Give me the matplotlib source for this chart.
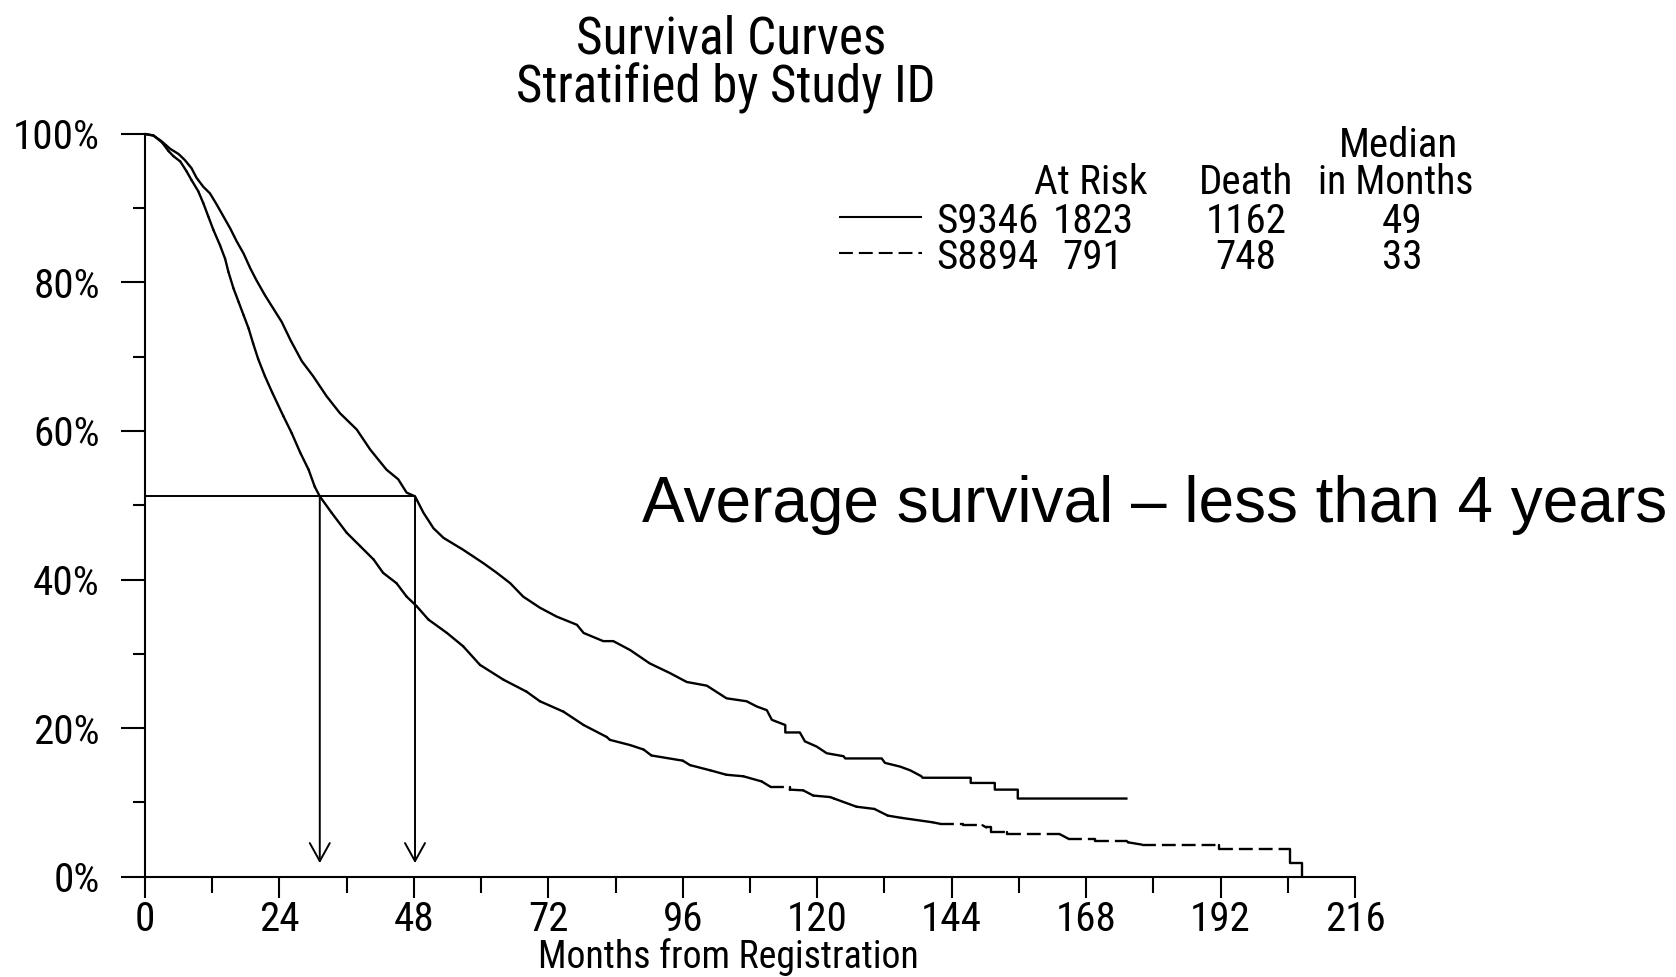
import os
import matplotlib
matplotlib.use("Agg")
import matplotlib.pyplot as plt
from matplotlib.collections import LineCollection
from matplotlib.lines import Line2D
from matplotlib import font_manager
import numpy as np

# ---------------------------------------------------------------- data
# Kaplan-Meier estimates (months from registration, % surviving)
s9346_months = [0, 1.5, 3.0, 4.5, 6.0, 7.1, 8.3, 9.2, 10.4, 11.6, 12.8, 14.0,
                15.2, 16.4, 17.6, 18.8, 19.9, 21.4, 22.9, 24.4, 26.0, 28.0,
                30.0, 32.4, 34.8, 37.8, 40.2, 43.1, 45.2, 46.7, 48.2, 49.7,
                51.5, 53.3, 56.8, 60.4, 62.8, 65.2, 67.5, 70.5, 73.5, 77.1,
                78.3, 81.8, 83.6, 86.6, 90.1, 93.7, 96.7, 100.3, 103.8, 107.4,
                109.2, 111.0, 111.9, 114.3, 114.3, 116.9, 117.8, 119.9, 121.7,
                124.7, 125.0, 131.5, 132.1, 134.8, 136.6, 138.6, 138.8, 147.4,
                147.4, 151.7, 151.7, 155.8, 155.8, 175.4]
s9346_surv = [100, 99.8, 99.0, 98.0, 97.3, 96.5, 95.4, 94.1, 92.9, 92.0, 90.5,
              88.9, 87.3, 85.5, 83.9, 81.9, 80.3, 78.3, 76.5, 74.7, 72.2, 69.4,
              67.4, 64.7, 62.4, 60.2, 57.5, 54.8, 53.5, 51.7, 51.2, 49.0, 46.9,
              45.6, 44.0, 42.2, 40.9, 39.5, 37.7, 36.2, 35.0, 33.9, 32.8, 31.7,
              31.7, 30.5, 28.7, 27.4, 26.2, 25.7, 24.0, 23.6, 22.9, 22.4, 21.1,
              20.4, 19.4, 19.4, 18.2, 17.5, 16.6, 16.2, 15.9, 15.9, 15.3, 14.8,
              14.3, 13.5, 13.3, 13.3, 12.6, 12.6, 11.7, 11.7, 10.5, 10.5]

s8894_months = [0, 1.5, 3.0, 4.2, 5.1, 6.3, 7.4, 8.3, 9.5, 10.4, 11.3, 12.2,
                13.4, 14.3, 14.9, 15.8, 16.7, 17.6, 18.5, 19.3, 20.2, 21.4,
                22.7, 24.7, 26.2, 27.7, 29.2, 30.3, 31.2, 33.3, 36.0, 38.4,
                40.8, 42.5, 44.9, 46.7, 48.5, 50.6, 53.9, 56.8, 59.8, 64.0,
                68.1, 70.5, 74.7, 78.3, 82.4, 83.0, 86.6, 89.0, 90.4, 96.0,
                97.3, 100.9, 103.8, 106.8, 110.1, 111.6, 115.1, 115.1, 117.5,
                119.3, 122.3, 123.0, 127.0, 130.2, 132.6, 135.0, 140.6, 141.9,
                146.0, 146.0, 149.5, 150.2, 151.1, 151.1, 153.8, 153.8, 163.3,
                164.8, 169.6, 169.6, 175.2, 175.5, 177.9, 191.8, 191.8, 204.4,
                204.4, 206.6, 206.6]
s8894_surv = [100, 99.8, 98.9, 97.7, 97.0, 96.3, 95.0, 93.8, 92.3, 90.7, 88.9,
              87.1, 85.0, 83.2, 81.4, 79.2, 77.4, 75.6, 73.8, 71.8, 69.7, 67.4,
              65.2, 62.0, 59.7, 57.1, 54.8, 52.5, 51.2, 49.0, 46.3, 44.5, 42.7,
              40.9, 39.5, 37.7, 36.4, 34.6, 32.8, 31.0, 28.5, 26.5, 24.9, 23.6,
              22.2, 20.4, 18.8, 18.4, 17.7, 17.1, 16.3, 15.6, 15.0, 14.3, 13.7,
              13.5, 12.8, 12.1, 12.1, 11.7, 11.6, 10.9, 10.7, 10.5, 9.4, 9.1,
              8.2, 7.9, 7.3, 7.1, 7.1, 6.9, 6.9, 6.6, 6.6, 6.0, 6.0, 5.7, 5.7,
              5.1, 5.1, 4.8, 4.8, 4.6, 4.3, 4.3, 3.7, 3.7, 1.8, 1.8, 0.0]

studies = ["S9346", "S8894"]
at_risk = [1823, 791]
deaths = [1162, 748]
median_months = [49, 33]

# 50% read-off guide: level and where each curve crosses it
guide_level = 51.2
guide_cross = [31.2, 48.2]
arrow_tip = 1.8

x_major = list(range(0, 217, 24))
x_minor = list(range(12, 217, 24))
y_major = [0, 20, 40, 60, 80, 100]
y_minor = [10, 30, 50, 70, 90]


# ---------------------------------------------------------------- fonts
def find_narrow_font():
    """Return the path of an installed narrow/condensed sans face, or None."""
    files = [e.fname for e in font_manager.fontManager.ttflist]
    preferred = ["liberationsansnarrow-regular", "arialn.", "arial narrow",
                 "robotocondensed-regular", "roboto_condensed-regular",
                 "roboto-condensed", "notosans-condensed.",
                 "dejavusanscondensed.", "opensans_condensed-regular",
                 "opensanscondensed-regular", "opensans-condensedregular",
                 "notosans-semicondensed."]
    for key in preferred:
        for f in files:
            if key in os.path.basename(f).lower():
                return f
    skip = ("bold", "italic", "oblique", "light", "thin", "black", "medium",
            "mono", "serif", "cjk", "display", "extra", "semi")
    cands = []
    for f in files:
        b = os.path.basename(f).lower()
        if ("narrow" in b or "condensed" in b) and not any(s in b for s in skip):
            cands.append(f)
    cands.sort(key=lambda f: len(os.path.basename(f)))
    return cands[0] if cands else None


narrow_path = find_narrow_font()
if narrow_path:
    NARROW = dict(fontproperties=font_manager.FontProperties(fname=narrow_path))
    scale = 1.0
else:
    NARROW = dict(family=["Liberation Sans", "DejaVu Sans"])
    scale = 0.82


def nfont(size):
    d = dict(NARROW)
    if "fontproperties" in d:
        fp = d["fontproperties"].copy()
        fp.set_size(size * scale)
        return dict(fontproperties=fp)
    d["fontsize"] = size * scale
    return d


REGULAR = ["Liberation Sans", "DejaVu Sans"]
plt.rcParams["lines.scale_dashes"] = False

# ---------------------------------------------------------------- figure
W, H = 1676, 977
fig = plt.figure(figsize=(W / 100, H / 100), dpi=100)
fig.patch.set_facecolor("white")


def fx(px):
    return px / W


def fy(py):
    return 1 - py / H


ax = fig.add_axes([fx(145), fy(876.5), fx(1355) - fx(145), fy(134) - fy(876.5)])
ax.set_xlim(0, 216)
ax.set_ylim(0, 100)
for side in ("top", "right"):
    ax.spines[side].set_visible(False)
for side in ("left", "bottom"):
    ax.spines[side].set_linewidth(1.5)

LW = 1.7
DASH = (0, (10.0, 4.3))

# S9346: solid curve
ax.plot(s9346_months, s9346_surv, color="black", lw=LW,
        solid_joinstyle="round", solid_capstyle="butt", clip_on=False)

# S8894: dashed curve; the dash pattern restarts on every segment, so the
# dense stepping part reads as solid and flat runs show dashes
pts = np.column_stack([s8894_months, s8894_surv])
segs = np.stack([pts[:-1], pts[1:]], axis=1)
flat = np.isclose(segs[:, 0, 1], segs[:, 1, 1])
ax.add_collection(LineCollection(segs[~flat], colors="black", linewidths=LW,
                                 capstyle="round", joinstyle="round",
                                 clip_on=False))
ax.add_collection(LineCollection(segs[flat], colors="black", linewidths=LW,
                                 linestyles=[DASH], capstyle="butt",
                                 clip_on=False))

# median read-off guide with arrows
ax.plot([0, max(guide_cross)], [guide_level, guide_level], color="black",
        lw=1.4, solid_capstyle="butt")
for xc in guide_cross:
    ax.annotate("", xy=(xc, arrow_tip), xytext=(xc, guide_level),
                arrowprops=dict(arrowstyle="->,head_length=1.3,head_width=0.72",
                                color="black", lw=1.4, shrinkA=0, shrinkB=0,
                                mutation_scale=10))

# ticks
TICK = 29.5
ax.set_xticks(x_major)
ax.set_xticks(x_minor, minor=True)
ax.set_yticks(y_major)
ax.set_yticks(y_minor, minor=True)
ax.set_xticklabels([str(v) for v in x_major], **nfont(TICK))
ax.set_yticklabels([f"{v}%" for v in y_major], **nfont(TICK))
ax.tick_params(axis="y", which="major", direction="out", length=17.5,
               width=1.5, pad=15)
ax.tick_params(axis="y", which="minor", direction="out", length=8.8, width=1.5)
ax.tick_params(axis="x", which="major", direction="out", length=15,
               width=1.5, pad=2)
ax.tick_params(axis="x", which="minor", direction="out", length=11.5,
               width=1.5)

# titles and axis label
fig.text(fx(731), fy(53.5), "Survival Curves", ha="center", va="baseline",
         **nfont(37))
fig.text(fx(726), fy(102.6), "Stratified by Study ID", ha="center",
         va="baseline", **nfont(36.5))
fig.text(fx(728), fy(967.5), "Months from Registration", ha="center",
         va="baseline", **nfont(27.2))

# summary table acting as legend
TS = 29.5
fig.text(fx(1398), fy(157), "Median", ha="center", va="baseline", **nfont(TS))
fig.text(fx(1091), fy(194.5), "At Risk", ha="center", va="baseline", **nfont(TS))
fig.text(fx(1246), fy(194.5), "Death", ha="center", va="baseline", **nfont(TS))
fig.text(fx(1396), fy(194.5), "in Months", ha="center", va="baseline",
         **nfont(28.5))

row_base = [233, 269.5]
line_y = [217, 253]
styles = ["-", DASH]
for i in range(2):
    fig.add_artist(Line2D([fx(839), fx(922)], [fy(line_y[i])] * 2,
                          transform=fig.transFigure, color="black", lw=1.5,
                          linestyle=styles[i], solid_capstyle="butt",
                          dash_capstyle="butt"))
    fig.text(fx(936), fy(row_base[i]), studies[i], ha="left", va="baseline",
             **nfont(TS))
    fig.text(fx(1093), fy(row_base[i]), str(at_risk[i]), ha="center",
             va="baseline", **nfont(TS))
    fig.text(fx(1246), fy(row_base[i]), str(deaths[i]), ha="center",
             va="baseline", **nfont(TS))
    fig.text(fx(1402), fy(row_base[i]), str(median_months[i]), ha="center",
             va="baseline", **nfont(TS))

# headline annotation
fig.text(fx(642), fy(521.6), "Average survival \u2013 less than 4 years",
         ha="left", va="baseline", fontsize=46, family=REGULAR)

fig.savefig("out.png", dpi=100, facecolor="white")
